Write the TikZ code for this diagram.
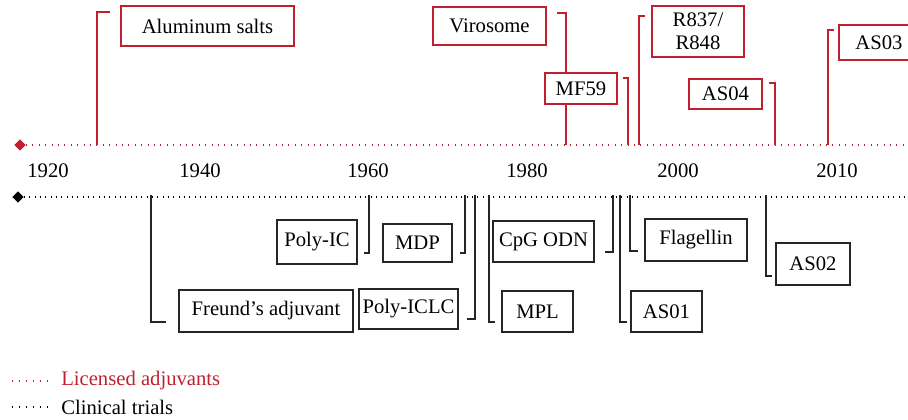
\documentclass[tikz,border=0pt]{standalone}
\usepackage{fontspec}
\setmainfont{Liberation Serif}
\usetikzlibrary{shapes.geometric}
\definecolor{licred}{RGB}{190,32,46}

\begin{document}
\begin{tikzpicture}
[
	x	= 0.75pt,	% one unit is one pixel of the layout
	y	= -0.75pt,	% y runs downwards, as in the layout
	%
	%
	% ----------- options for the timeline --------------
	every node/.style =
	{
		font		= \fontsize{15.5}{17}\selectfont,
		inner sep	= 0pt
	},
	%
	licensed/.style =
	{
		draw		= licred,
		line width	= 0.8pt,
		fill		= white,
		align		= center
	},
	%
	trial/.style =
	{
		draw		= black!85,
		line width	= 0.8pt,
		fill		= white,
		align		= center
	},
	%
	redlink/.style =
	{
		licred,
		line width	= 0.8pt
	},
	%
	blacklink/.style =
	{
		black!85,
		line width	= 0.8pt
	},
	%
	reddots/.style =
	{
		licred,
		line width		= 0.9pt,
		dash pattern	= on 0.8pt off 4pt
	},
	%
	blackdots/.style =
	{
		black,
		line width		= 0.9pt,
		dash pattern	= on 0.8pt off 3.2pt
	},
	%
	startdot/.style =
	{
		diamond,
		minimum size	= 8.5pt
	}
]

\useasboundingbox (0,0) rectangle (908,419);

% timelines
\node[startdot, fill = licred] (redstart) at (20,145) {};
\node[startdot, fill = black] (blackstart) at (18,197) {};
\coordinate (redend) at (908,145);
\coordinate (blackend) at (908,197);
\draw[reddots] (redstart) -- (redend);
\draw[blackdots] (blackstart) -- (blackend);

% years
\node (y1920) at (48,171) {1920};
\node (y1940) at (200,171) {1940};
\node (y1960) at (368,171) {1960};
\node (y1980) at (527,171) {1980};
\node (y2000) at (678,171) {2000};
\node (y2010) at (837,171) {2010};

% licensed links
\coordinate (t-alum) at (97,145);	\coordinate (e-alum) at (110,12);
\coordinate (t-viro) at (566,145);	\coordinate (e-viro) at (557,13);
\coordinate (t-mf59) at (628,145);	\coordinate (e-mf59) at (623,78);
\coordinate (t-r837) at (639,145);	\coordinate (e-r837) at (645,16);
\coordinate (t-as04) at (775,145);	\coordinate (e-as04) at (769,83);
\coordinate (t-as03) at (828,145);	\coordinate (e-as03) at (834,30);
\draw[redlink] (t-alum) |- (e-alum);
\draw[redlink] (t-viro) |- (e-viro);
\draw[redlink] (t-mf59) |- (e-mf59);
\draw[redlink] (t-r837) |- (e-r837);
\draw[redlink] (t-as04) |- (e-as04);
\draw[redlink] (t-as03) |- (e-as03);

% trial links
\coordinate (t-freund) at (151,195);	\coordinate (e-freund) at (166,322);
\coordinate (t-polyic) at (369,195);	\coordinate (e-polyic) at (364,253);
\coordinate (t-mdp) at (465,195);		\coordinate (e-mdp) at (460,253);
\coordinate (t-iclc) at (475,195);		\coordinate (e-iclc) at (467,319);
\coordinate (t-mpl) at (489,195);		\coordinate (e-mpl) at (495,322);
\coordinate (t-cpg) at (613,195);		\coordinate (e-cpg) at (605,252);
\coordinate (t-as01) at (620,195);		\coordinate (e-as01) at (627,322);
\coordinate (t-flag) at (630,195);		\coordinate (e-flag) at (638,251);
\coordinate (t-as02) at (766,195);		\coordinate (e-as02) at (772,276);
\foreach \name in {freund, polyic, mdp, iclc, mpl, cpg, as01, flag, as02}
	\draw[blacklink] (t-\name) |- (e-\name);

% licensed adjuvants
\node[licensed, minimum width = 129.75pt, minimum height = 30pt] (alum) at (207.5,26) {Aluminum salts};
\node[licensed, minimum width = 84.75pt, minimum height = 28.5pt] (viro) at (489.5,26) {Virosome};
\node[licensed, minimum width = 54pt, minimum height = 23.25pt] (mf59) at (581,88.5) {MF59};
\node[licensed, minimum width = 69pt, minimum height = 38.25pt] (r837) at (698,31.5) {R837/\\R848};
\node[licensed, minimum width = 54.75pt, minimum height = 22.5pt] (as04) at (725.5,94) {AS04};
\node[licensed, minimum width = 60pt, minimum height = 26.25pt] (as03) at (879,42.5) {AS03};

% clinical trials
\node[trial, minimum width = 130.5pt, minimum height = 31.5pt] (freund) at (266,311) {Freund's adjuvant};
\node[trial, minimum width = 60pt, minimum height = 33pt] (polyic) at (317,242) {Poly-IC};
\node[trial, minimum width = 51.75pt, minimum height = 28.5pt] (mdp) at (417.5,243) {MDP};
\node[trial, minimum width = 74.25pt, minimum height = 30pt] (iclc) at (408.5,309) {Poly-ICLC};
\node[trial, minimum width = 75.75pt, minimum height = 30.75pt] (cpg) at (543.5,241.5) {CpG ODN};
\node[trial, minimum width = 53.25pt, minimum height = 30.75pt] (mpl) at (537.5,311.5) {MPL};
\node[trial, minimum width = 76.5pt, minimum height = 31.5pt] (flag) at (696,240) {Flagellin};
\node[trial, minimum width = 53.25pt, minimum height = 30.75pt] (as01) at (666.5,311.5) {AS01};
\node[trial, minimum width = 55.5pt, minimum height = 31.5pt] (as02) at (813,264) {AS02};

% legend
\coordinate (lr-a) at (12,381);	\coordinate (lr-b) at (47,381);
\coordinate (lb-a) at (12,407);	\coordinate (lb-b) at (47,407);
\draw[reddots, dash pattern = on 0.8pt off 4.4pt] (lr-a) -- (lr-b);
\draw[blackdots, dash pattern = on 0.8pt off 4.4pt] (lb-a) -- (lb-b);
\node[anchor = west, text = licred] (licensedkey) at (61,381) {Licensed adjuvants};
\node[anchor = west] (trialkey) at (61,407) {Clinical trials};

\end{tikzpicture}
\end{document}
